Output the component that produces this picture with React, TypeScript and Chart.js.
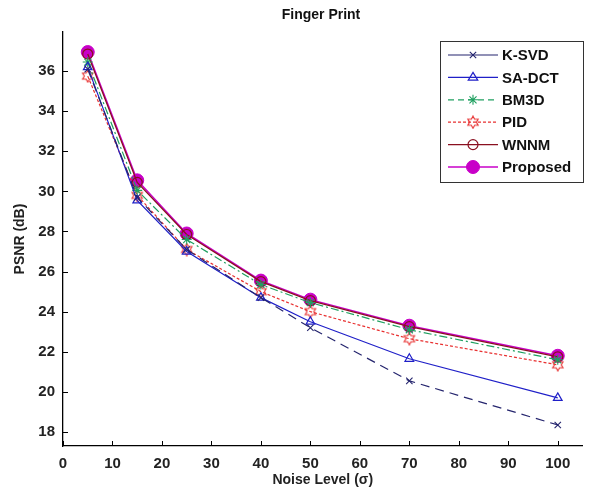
import React, { useEffect, useRef } from "react";
import { Chart, registerables } from "chart.js";

Chart.register(...registerables);

const NOISE = [5, 15, 25, 40, 50, 70, 100];
const KSVD = [36.1, 29.7, 27.1, 24.7, 23.2, 20.55, 18.35];
const SADCT = [36.2, 29.55, 27.0, 24.7, 23.5, 21.65, 19.7];
const BM3D = [36.45, 30.05, 27.6, 25.35, 24.45, 23.1, 21.6];
const PID = [35.75, 29.8, 27.1, 25.0, 24.0, 22.65, 21.35];
const WNNM = [36.85, 30.45, 27.85, 25.5, 24.55, 23.25, 21.75];
const PROPOSED = [36.95, 30.55, 27.9, 25.55, 24.6, 23.3, 21.8];
const X_TICKS = [0, 10, 20, 30, 40, 50, 60, 70, 80, 90, 100];
const Y_TICKS = [18, 20, 22, 24, 26, 28, 30, 32, 34, 36];
const TITLE = "Finger Print";

const FONT = "'Liberation Sans', Arial, sans-serif";
const NARROW = "'Liberation Sans Narrow', 'Liberation Sans', Arial, sans-serif";

function makeHexagram(color: string) {
  const c = document.createElement("canvas");
  c.width = 14;
  c.height = 14;
  const ctx = c.getContext("2d")!;
  ctx.strokeStyle = color;
  ctx.lineWidth = 1.1;
  const cx = 7, cy = 7, R = 6, r = 3.4;
  ctx.beginPath();
  for (let i = 0; i < 12; i++) {
    const a = -Math.PI / 2 + (i * Math.PI) / 6;
    const rad = i % 2 === 0 ? R : r;
    const x = cx + rad * Math.cos(a);
    const y = cy + rad * Math.sin(a);
    if (i === 0) ctx.moveTo(x, y);
    else ctx.lineTo(x, y);
  }
  ctx.closePath();
  ctx.stroke();
  return c;
}

function drawPointFn(ctx: CanvasRenderingContext2D, style: any, r: number, x: number, y: number) {
  if (style instanceof HTMLCanvasElement) {
    ctx.drawImage(style, x - style.width / 2, y - style.height / 2);
    return;
  }
  ctx.beginPath();
  if (style === "circle") {
    ctx.arc(x, y, r, 0, Math.PI * 2);
    ctx.closePath();
    ctx.fill();
    ctx.stroke();
  } else if (style === "triangle") {
    ctx.moveTo(x, y - r);
    ctx.lineTo(x + r * 0.95, y + r * 0.55);
    ctx.lineTo(x - r * 0.95, y + r * 0.55);
    ctx.closePath();
    ctx.fill();
    ctx.stroke();
  } else if (style === "crossRot") {
    const d = r * 0.707;
    ctx.moveTo(x - d, y - d); ctx.lineTo(x + d, y + d);
    ctx.moveTo(x + d, y - d); ctx.lineTo(x - d, y + d);
    ctx.stroke();
  } else if (style === "star") {
    const d = r * 0.707;
    ctx.moveTo(x - r, y); ctx.lineTo(x + r, y);
    ctx.moveTo(x, y - r); ctx.lineTo(x, y + r);
    ctx.moveTo(x - d, y - d); ctx.lineTo(x + d, y + d);
    ctx.moveTo(x + d, y - d); ctx.lineTo(x - d, y + d);
    ctx.stroke();
  }
}

export default function App() {
  const ref = useRef<HTMLCanvasElement>(null);

  useEffect(() => {
    const hex = makeHexagram("#e83030");
    const mk = (vals: number[]) => NOISE.map((x, i) => ({ x, y: vals[i] }));
    const datasets: any[] = [
      {
        label: "K-SVD", data: mk(KSVD), borderColor: "#25256e", backgroundColor: "#25256e",
        borderWidth: 1.2, borderDash: [9, 6], pointStyle: "crossRot", pointRadius: 4.5,
        pointBorderWidth: 1.1, legendDash: [],
      },
      {
        label: "SA-DCT", data: mk(SADCT), borderColor: "#2020c8", backgroundColor: "rgba(0,0,0,0)",
        borderWidth: 1.2, borderDash: [], pointStyle: "triangle", pointRadius: 5,
        pointBorderWidth: 1.2, legendDash: [],
      },
      {
        label: "BM3D", data: mk(BM3D), borderColor: "#1fa060", backgroundColor: "#1fa060",
        borderWidth: 1.2, borderDash: [8, 3, 2, 3], pointStyle: "star", pointRadius: 5,
        pointBorderWidth: 1.1, legendDash: [6, 4],
      },
      {
        label: "PID", data: mk(PID), borderColor: "#e83030", backgroundColor: "#e83030",
        borderWidth: 1.2, borderDash: [3, 2], pointStyle: hex, pointRadius: 6,
        pointBorderWidth: 1, legendDash: [3, 2],
      },
      {
        label: "WNNM", data: mk(WNNM), borderColor: "#8a1020", backgroundColor: "rgba(0,0,0,0)",
        borderWidth: 1.3, borderDash: [], pointStyle: "circle", pointRadius: 5,
        pointBorderWidth: 1.2, legendDash: [],
      },
      {
        label: "Proposed", data: mk(PROPOSED), borderColor: "#c800c8", backgroundColor: "#c800c8",
        borderWidth: 1.5, borderDash: [], pointStyle: "circle", pointRadius: 6.5,
        pointBorderWidth: 1, legendDash: [],
      },
    ];

    const decor = {
      id: "decor",
      afterDraw(chart: any) {
        const ctx = chart.ctx;
        const xs = chart.scales.x;
        const ys = chart.scales.y;
        const ca = chart.chartArea;
        ctx.save();
        // title
        ctx.fillStyle = "#111";
        ctx.font = `bold 14px ${FONT}`;
        ctx.textAlign = "center";
        ctx.textBaseline = "middle";
        ctx.fillText(TITLE, 321, 15);
        ctx.strokeStyle = "#000";
        ctx.lineWidth = 1;
        X_TICKS.forEach((v) => {
          const px = Math.round(xs.getPixelForValue(v)) + 0.5;
          ctx.beginPath();
          ctx.moveTo(px, ca.bottom);
          ctx.lineTo(px, ca.bottom - 5);
          ctx.stroke();
        });
        Y_TICKS.forEach((v) => {
          const py = Math.round(ys.getPixelForValue(v)) + 0.5;
          ctx.beginPath();
          ctx.moveTo(ca.left, py);
          ctx.lineTo(ca.left + 5, py);
          ctx.stroke();
        });
        // legend box
        const bx = 440, by = 41, bw = 143, bh = 141;
        ctx.fillStyle = "#fff";
        ctx.fillRect(bx, by, bw, bh);
        ctx.strokeStyle = "#333";
        ctx.lineWidth = 1;
        ctx.strokeRect(bx + 0.5, by + 0.5, bw, bh);
        chart.data.datasets.forEach((ds: any, i: number) => {
          const y = 55 + i * 22.4;
          ctx.strokeStyle = ds.borderColor;
          ctx.lineWidth = ds.borderWidth;
          ctx.setLineDash(ds.legendDash || []);
          ctx.beginPath();
          ctx.moveTo(448, y);
          ctx.lineTo(498, y);
          ctx.stroke();
          ctx.setLineDash([]);
          ctx.fillStyle = ds.backgroundColor;
          ctx.lineWidth = ds.pointBorderWidth;
          drawPointFn(ctx, ds.pointStyle, ds.pointRadius, 473, y);
          ctx.fillStyle = "#111";
          ctx.font = `bold 15px ${NARROW}`;
          ctx.textBaseline = "middle";
          ctx.textAlign = "left";
          ctx.fillText(ds.label, 502, y + 1);
        });
        ctx.restore();
      },
    };

    const chart = new Chart(ref.current!, {
      type: "line",
      data: { datasets },
      plugins: [decor],
      options: {
        animation: false,
        responsive: false,
        layout: { padding: { top: 32, left: 0, right: 0, bottom: 0 } },
        plugins: {
          legend: { display: false },
          tooltip: { enabled: false },
          title: { display: false },
        },
        elements: { line: { tension: 0 } },
        scales: {
          x: {
            type: "linear",
            min: 0,
            max: 105,
            afterBuildTicks: (s: any) => { s.ticks = X_TICKS.map((v) => ({ value: v })); },
            afterFit: (s: any) => { s.height = 49; },
            grid: { display: false },
            border: { display: true, color: "#000", width: 1.3 },
            ticks: {
              color: "#222", padding: 1, maxRotation: 0, autoSkip: false,
              font: { family: NARROW, size: 15, weight: "bold" },
            },
            title: {
              display: true, text: "Noise Level (σ)", color: "#222",
              font: { family: FONT, size: 14, weight: "bold" },
              padding: { top: 0, bottom: 6 },
            },
          },
          y: {
            min: 17.3,
            max: 37.95,
            afterBuildTicks: (s: any) => { s.ticks = Y_TICKS.map((v) => ({ value: v })); },
            afterFit: (s: any) => { s.width = 63; },
            grid: { display: false },
            border: { display: true, color: "#000", width: 1.3 },
            ticks: {
              color: "#222", padding: 0, autoSkip: false,
              font: { family: NARROW, size: 15, weight: "bold" },
            },
            title: {
              display: true, text: "PSNR (dB)", color: "#222",
              font: { family: FONT, size: 14, weight: "bold" },
              padding: { top: 12, bottom: 0 },
            },
          },
        },
      } as any,
    });
    return () => chart.destroy();
  }, []);

  return (
    <div style={{ position: "absolute", left: 0, top: 0, width: 590, height: 495, background: "#fff" }}>
      <canvas ref={ref} width={590} height={495} />
    </div>
  );
}
